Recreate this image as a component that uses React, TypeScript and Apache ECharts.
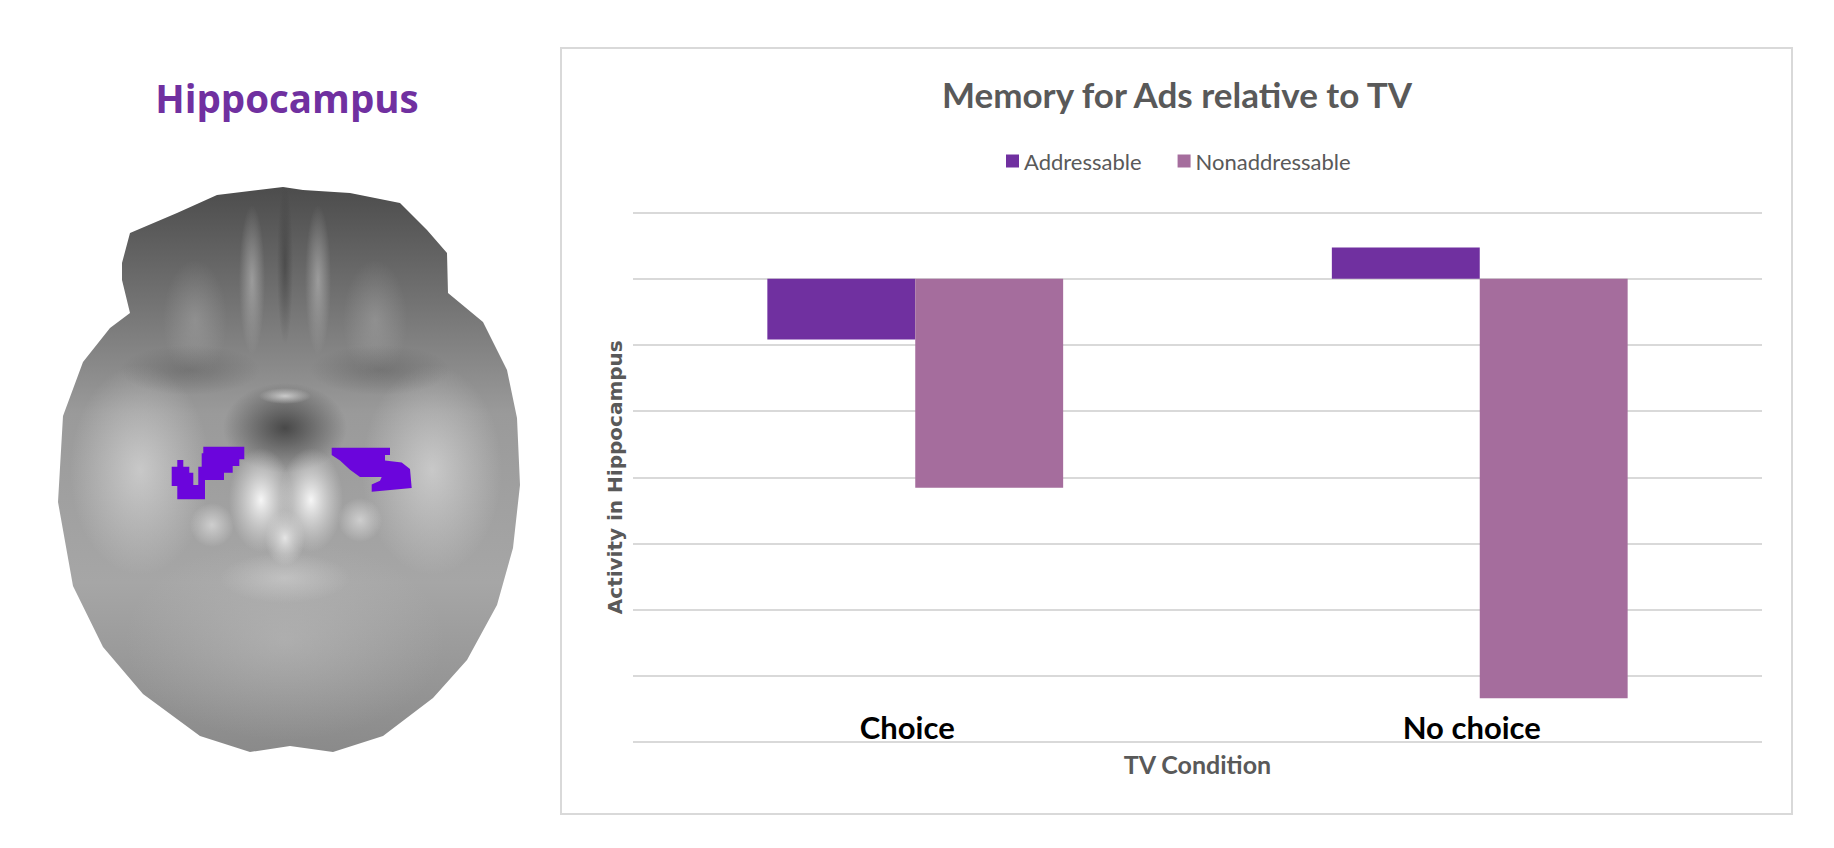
import React, { useEffect, useRef } from "react";
import * as echarts from "echarts";

const categories = ["Choice", "No choice"];
const seriesNames = ["Addressable", "Nonaddressable"];
const addressable = [-0.92, 0.47];
const nonaddressable = [-3.16, -6.34];
const yMin = -7;
const yMax = 1;
const yInterval = 1;

const brainOutline = [
  [122, 263], [130, 233], [177, 213], [217, 195], [283, 187], [303, 190], [350, 193],
  [400, 203], [427, 230], [447, 253], [448, 293], [483, 322], [507, 370], [517, 418],
  [520, 485], [513, 548], [497, 605], [467, 660], [433, 698], [383, 736], [333, 752],
  [290, 746], [250, 752], [200, 736], [143, 694], [103, 647], [73, 586], [58, 502],
  [63, 416], [83, 362], [110, 328], [130, 313], [122, 280],
];
const leftBlob = [
  [171.7, 466.7], [177.3, 466.7], [177.3, 460], [183.3, 460], [183.3, 466.7], [189.3, 466.7],
  [189.3, 472.7], [193.3, 472.7], [193.3, 485], [198.3, 485], [198.3, 466.7], [201.7, 466.7],
  [201.7, 453.3], [203.3, 453.3], [203.3, 446.7], [244.3, 446.7], [244.3, 459.3], [239.3, 459.3],
  [239.3, 466], [232.7, 466], [232.7, 472.7], [224, 472.7], [224, 480], [205, 480],
  [205, 499.3], [177.3, 499.3], [177.3, 486], [171.7, 486],
];
const rightBlob = [
  [331.7, 447.8], [390, 447.8], [390, 455.1], [385, 455.1], [385, 460.6], [401.7, 462.4],
  [410, 469], [411.7, 488.1], [371.7, 491.8], [371.7, 484.4], [380, 480.8], [381.7, 477.1],
  [360, 477.1], [350, 469.8], [340, 460.6], [331.7, 455.1],
];

function radial(inner: string, outer: string) {
  return new echarts.graphic.RadialGradient(0.5, 0.5, 0.5, [
    { offset: 0, color: inner },
    { offset: 1, color: outer },
  ]);
}

function glow(cx: number, cy: number, rx: number, ry: number, inner: string, outer: string) {
  return {
    type: "ellipse",
    shape: { cx, cy, rx, ry },
    style: { fill: radial(inner, outer) },
    silent: true,
  };
}

export default function App() {
  const ref = useRef<HTMLDivElement>(null);
  useEffect(() => {
    if (!ref.current) return;
    const chart = echarts.init(ref.current, undefined, { renderer: "svg" });
    const gray = "#595959";
    const option: any = {
      animation: false,
      backgroundColor: "#ffffff",
      legend: {
        data: seriesNames,
        left: 1006,
        top: 150,
        padding: 0,
        icon: "rect",
        itemWidth: 13,
        itemHeight: 13,
        itemGap: 36,
        textStyle: { fontFamily: "Lato", fontSize: 22, color: gray },
      },
      grid: { left: 633, right: 72, top: 212.5, bottom: 106, containLabel: false },
      xAxis: {
        type: "category",
        data: categories,
        axisLine: { show: false },
        axisTick: { show: false },
        axisLabel: {
          fontFamily: "Lato",
          fontWeight: "bold",
          fontSize: 31,
          color: "#000000",
          margin: 0,
          verticalAlign: "bottom",
          padding: [0, 16, 0, 0],
        },
        name: "TV Condition",
        nameLocation: "middle",
        nameGap: 9,
        nameTextStyle: {
          fontFamily: "Lato",
          fontWeight: "bold",
          fontSize: 25,
          color: gray,
          verticalAlign: "top",
        },
      },
      yAxis: {
        type: "value",
        min: yMin,
        max: yMax,
        interval: yInterval,
        axisLabel: { show: false },
        axisLine: { show: false },
        axisTick: { show: false },
        splitLine: { lineStyle: { color: "#d9d9d9", width: 2 } },
        name: "Activity in Hippocampus",
        nameLocation: "middle",
        nameGap: 8,
        nameTextStyle: {
          fontFamily: "DejaVu Sans",
          fontWeight: "bold",
          fontSize: 20,
          color: gray,
        },
      },
      series: [
        {
          name: seriesNames[0],
          type: "bar",
          data: addressable,
          barGap: "0%",
          barCategoryGap: "47.6%",
          itemStyle: { color: "#7030A0" },
        },
        {
          name: seriesNames[1],
          type: "bar",
          data: nonaddressable,
          barGap: "0%",
          barCategoryGap: "47.6%",
          itemStyle: { color: "#A56D9D" },
        },
      ],
      graphic: [
        {
          type: "rect",
          shape: { x: 561, y: 48, width: 1231, height: 766 },
          style: { fill: "none", stroke: "#d9d9d9", lineWidth: 2 },
          silent: true,
        },
        {
          type: "text",
          x: 1177,
          y: 94,
          style: {
            text: "Memory for Ads relative to TV",
            fontFamily: "Lato",
            fontWeight: "bold",
            fontSize: 35,
            fill: gray,
            align: "center",
            verticalAlign: "middle",
          },
        },
        {
          type: "text",
          x: 287,
          y: 98,
          style: {
            text: "Hippocampus",
            fontFamily: "Open Sans",
            fontWeight: "bold",
            fontSize: 38.5,
            fill: "#7030A0",
            align: "center",
            verticalAlign: "middle",
          },
        },
        {
          type: "group",
          silent: true,
          children: [
            {
              type: "polygon",
              shape: { points: brainOutline },
              style: {
                fill: new echarts.graphic.LinearGradient(0, 0, 0, 1, [
                  { offset: 0, color: "#4c4c4c" },
                  { offset: 0.2, color: "#727272" },
                  { offset: 0.4, color: "#9a9a9a" },
                  { offset: 0.7, color: "#a6a6a6" },
                  { offset: 1, color: "#8a8a8a" },
                ]),
              },
            },
            glow(140, 470, 70, 105, "rgba(228,228,228,0.6)", "rgba(228,228,228,0)"),
            glow(432, 470, 70, 105, "rgba(228,228,228,0.6)", "rgba(228,228,228,0)"),
            glow(285, 640, 160, 100, "rgba(200,200,200,0.4)", "rgba(200,200,200,0)"),
            glow(252, 280, 13, 75, "rgba(195,195,195,0.55)", "rgba(195,195,195,0)"),
            glow(318, 280, 13, 75, "rgba(195,195,195,0.55)", "rgba(195,195,195,0)"),
            glow(195, 320, 32, 60, "rgba(185,185,185,0.35)", "rgba(185,185,185,0)"),
            glow(375, 320, 32, 60, "rgba(185,185,185,0.35)", "rgba(185,185,185,0)"),
            glow(285, 265, 8, 80, "rgba(45,45,45,0.45)", "rgba(45,45,45,0)"),
            glow(190, 370, 70, 25, "rgba(70,70,70,0.35)", "rgba(70,70,70,0)"),
            glow(380, 370, 70, 25, "rgba(70,70,70,0.35)", "rgba(70,70,70,0)"),
            glow(285, 428, 62, 45, "rgba(45,45,45,0.75)", "rgba(45,45,45,0)"),
            glow(285, 396, 26, 8, "rgba(215,215,215,0.85)", "rgba(215,215,215,0)"),
            glow(261, 500, 32, 52, "rgba(246,246,246,1)", "rgba(222,222,222,0)"),
            glow(311, 500, 32, 52, "rgba(246,246,246,1)", "rgba(222,222,222,0)"),
            glow(285, 538, 20, 28, "rgba(236,236,236,0.9)", "rgba(222,222,222,0)"),
            glow(285, 578, 65, 25, "rgba(215,215,215,0.5)", "rgba(215,215,215,0)"),
            glow(212, 525, 22, 22, "rgba(235,235,235,0.6)", "rgba(235,235,235,0)"),
            glow(360, 520, 22, 22, "rgba(235,235,235,0.6)", "rgba(235,235,235,0)"),
            {
              type: "polygon",
              shape: { points: leftBlob },
              style: { fill: "#6b05dc" },
            },
            {
              type: "polygon",
              shape: { points: rightBlob },
              style: { fill: "#6b05dc" },
            },
          ],
        },
      ],
    };
    chart.setOption(option);
    return () => chart.dispose();
  }, []);
  return (
    <div
      ref={ref}
      style={{ position: "fixed", left: 0, top: 0, width: 1834, height: 848, background: "#fff" }}
    />
  );
}
